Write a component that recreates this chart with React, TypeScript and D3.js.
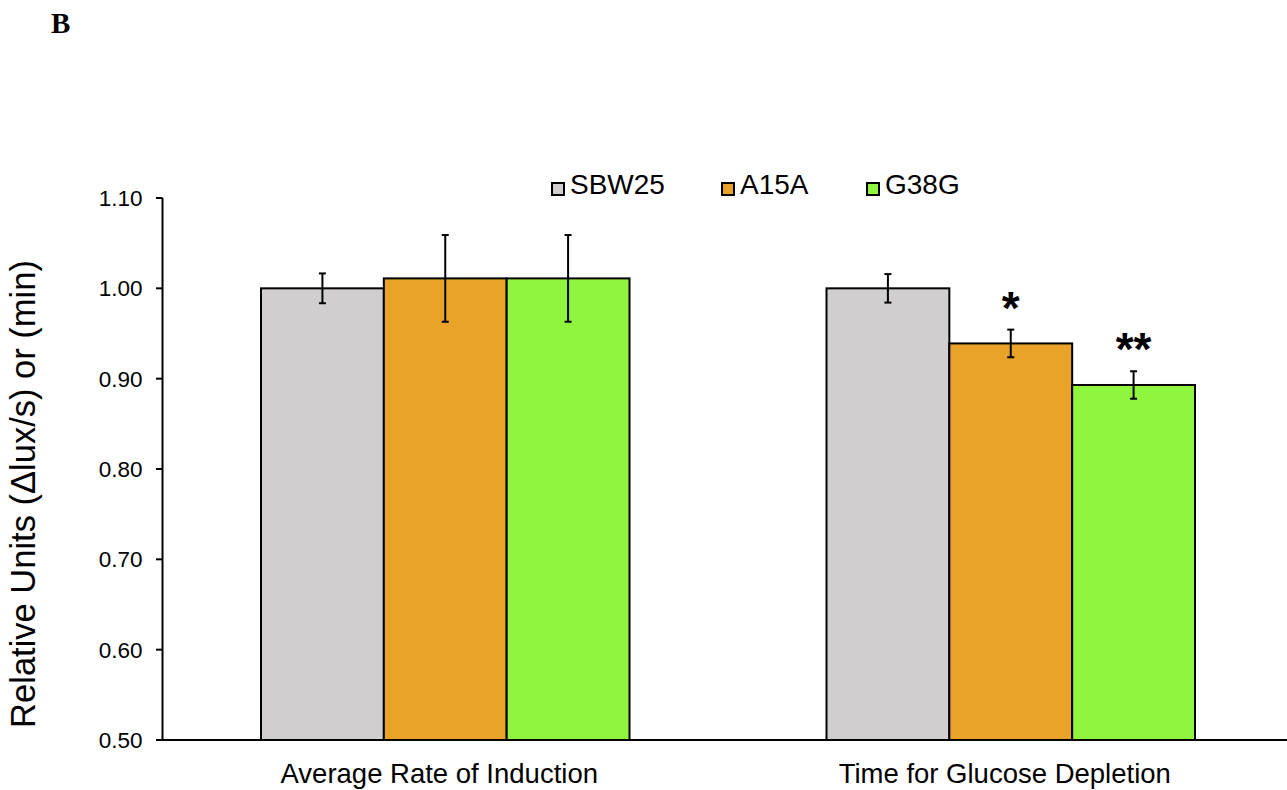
import React from "react";
import * as d3 from "d3";

const categories = ["Average Rate of Induction", "Time for Glucose Depletion"];
const seriesNames = ["SBW25", "A15A", "G38G"];
const seriesColors = ["#D0CECF", "#E8A328", "#90F53E"];
const sbw25 = [1.0, 1.0];
const a15a = [1.011, 0.939];
const g38g = [1.011, 0.893];
const sbw25Err = [0.0165, 0.0158];
const a15aErr = [0.048, 0.0153];
const g38gErr = [0.048, 0.0152];
const significance = [["", "", ""], ["", "*", "**"]];
const yTicks = [0.5, 0.6, 0.7, 0.8, 0.9, 1.0, 1.1];

export default function App() {
  const W = 1287, H = 790;
  const x0 = 162.5, yTop = 198, yBot = 740;
  const bandW = 565.5;
  const values = [sbw25, a15a, g38g];
  const errs = [sbw25Err, a15aErr, g38gErr];

  const x = d3.scaleBand<string>().domain(categories).range([x0, x0 + bandW * 2]).paddingInner(0).paddingOuter(0);
  const inner = d3.scaleBand<string>().domain(seriesNames).range([0, 368.5]);
  const y = d3.scaleLinear().domain([0.5, 1.1]).range([yBot, yTop]);
  const groupOffset = (x.bandwidth() - inner.range()[1]) / 2;
  const font = "'Liberation Sans', Arial, sans-serif";

  return (
    <svg width={W} height={H} style={{ position: "absolute", left: 0, top: 0, background: "#fff" }}>
      <text x={51} y={33} fontFamily="'Liberation Serif', 'Times New Roman', serif" fontWeight="bold" fontSize={29}>B</text>

      {/* bars */}
      {categories.map((c, ci) =>
        seriesNames.map((s, si) => {
          const bx = (x(c) as number) + groupOffset + (inner(s) as number);
          const v = values[si][ci];
          const e = errs[si][ci];
          const cx = bx + inner.bandwidth() / 2;
          return (
            <g key={c + s}>
              <rect x={bx} y={y(v)} width={inner.bandwidth()} height={yBot - y(v)} fill={seriesColors[si]} stroke="#000" strokeWidth={2} />
              <line x1={cx} x2={cx} y1={y(v + e)} y2={y(v - e)} stroke="#000" strokeWidth={2} />
              <line x1={cx - 3.5} x2={cx + 3.5} y1={y(v + e)} y2={y(v + e)} stroke="#000" strokeWidth={2} />
              <line x1={cx - 3.5} x2={cx + 3.5} y1={y(v - e)} y2={y(v - e)} stroke="#000" strokeWidth={2} />
              {significance[ci][si] && (
                <text x={cx} y={y(v + e) - 6} textAnchor="middle" fontFamily={font} fontWeight="bold" fontSize={46}>
                  {significance[ci][si]}
                </text>
              )}
            </g>
          );
        })
      )}

      {/* y axis */}
      <line x1={x0} x2={x0} y1={yTop} y2={yBot} stroke="#000" strokeWidth={2} />
      {yTicks.map((t) => (
        <g key={t}>
          <line x1={x0 - 6.5} x2={x0} y1={y(t)} y2={y(t)} stroke="#000" strokeWidth={2} />
          <text x={x0 - 20} y={y(t)} dy="0.35em" textAnchor="end" fontFamily={font} fontSize={22.5}>
            {d3.format(".2f")(t)}
          </text>
        </g>
      ))}
      {/* x axis */}
      <line x1={x0 - 6.5} x2={W} y1={yBot} y2={yBot} stroke="#000" strokeWidth={2} />
      {categories.map((c) => (
        <text key={c} x={(x(c) as number) + x.bandwidth() / 2 - 6} y={783} textAnchor="middle" fontFamily={font} fontSize={27.5}>
          {c}
        </text>
      ))}

      <text transform={`translate(35, 494) rotate(-90)`} textAnchor="middle" fontFamily={font} fontSize={34.5}>
        Relative Units (Δlux/s) or (min)
      </text>

      {/* legend */}
      {seriesNames.map((s, i) => {
        const lx = [551, 721, 866][i];
        return (
          <g key={s}>
            <rect x={lx + 1} y={183} width={12} height={12} fill={seriesColors[i]} stroke="#000" strokeWidth={2} />
            <text x={lx + 19} y={193.5} fontFamily={font} fontSize={28}>{s}</text>
          </g>
        );
      })}
    </svg>
  );
}
